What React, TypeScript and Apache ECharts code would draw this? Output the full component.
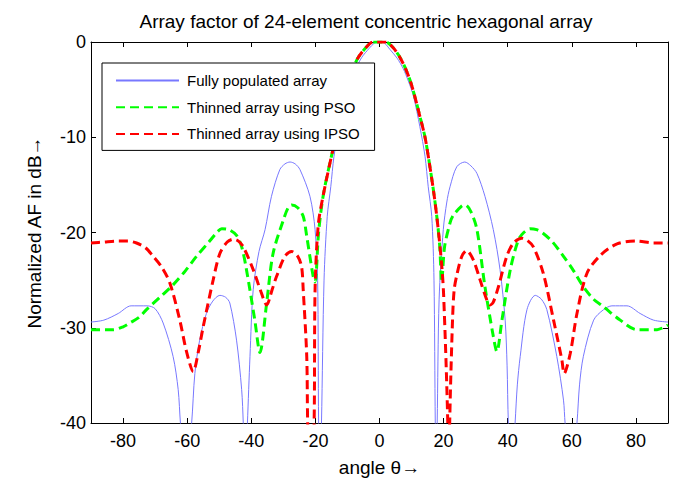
import React, { useEffect, useRef } from "react";
import * as echarts from "echarts";

const TITLE = "Array factor of 24-element concentric hexagonal array";
const X_NAME = "angle θ→";
const Y_NAME = "Normalized AF in dB→";
const SERIES_NAMES = ["Fully populated array", "Thinned array using PSO", "Thinned array using IPSO"];
const X_TICKS = [-80, -60, -40, -20, 0, 20, 40, 60, 80];

const FULL_ANGLE = [
  -90, -86, -81.5, -77.5, -72.5, -70, -67.5, -64.4, -62.8, -62.1, -60.4, -58.6, -57.6, -56.1, -54.0, -52.0,
  -49.8, -48.0, -46.7, -44.6, -43.0, -42.5, -41.9, -41.2, -40.4, -39.4, -37.6, -35.7, -33.7, -31.1, -29.5,
  -27.9, -26.3, -24.8, -21.7, -20.1, -19.3, -19.0, -18.6, -18.1, -17.3, -16.3, -15.2, -14.2, -12.6, -10.6,
  -9.0, -7.4, -5.5, -3.3, -1.5, 0,
  1.5, 3.3, 5.5, 7.4, 9.0, 10.6, 12.6, 14.2, 15.2, 16.3, 17.0, 17.4, 17.7, 18.0, 18.6, 19.9, 21.0, 22.0,
  24.1, 26.6, 28.5, 30.4, 32.9, 35.5, 37.6, 39.2, 39.8, 40.2, 41.2, 42.3, 43.0, 43.9, 46.0, 48.6, 50.5,
  52.2, 55.3, 57.4, 57.9, 59.8, 61.6, 62.4, 63.6, 66.8, 69.9, 72.5, 77.2, 81.3, 85.5, 90,
];
const FULL_DB = [
  -29.4, -29.2, -28.5, -27.7, -27.7, -28.0, -29.5, -33.0, -36.5, -40, -46, -40, -34.8, -31.3, -28.5, -27.2,
  -26.6, -26.8, -27.4, -31.3, -36.5, -40, -46, -40, -33.0, -26.0, -22.0, -19.7, -16.2, -13.4, -12.8,
  -12.6, -12.8, -13.4, -16.2, -19.7, -25, -40, -46, -40, -25, -18.3, -15.2, -12.0, -8.9, -5.7,
  -4.1, -2.8, -1.6, -0.7, -0.1, 0,
  -0.1, -0.8, -1.7, -2.8, -4.1, -5.7, -8.9, -12.0, -15.2, -18.3, -25, -40, -46, -40, -27, -19.7, -16.8, -15.2,
  -13.1, -12.6, -13.0, -13.8, -16.2, -19.7, -23.9, -29.2, -34, -40, -46, -40, -36, -33.0, -28.1, -26.6, -27.0,
  -28.1, -33.0, -37.6, -40, -46, -40, -36, -33.0, -29.2, -28.1, -27.7, -27.7, -28.5, -29.2, -29.4,
];

const PSO_ANGLE = [
  -90, -83, -80, -77.9, -75, -72.7, -68.5, -64.4, -60.5, -57.1, -53, -50.5, -49.2, -47, -44.6, -43, -41.5,
  -38.9, -37.3, -35.2, -33.2, -30.0, -28.5, -27.4, -25.5, -23.8, -22.7, -20.7, -20.1, -19.0, -17.5, -14.4,
  -11.3, -9, -7.1, -4, -2, 0,
  2, 4, 6, 8, 10, 12.6, 14.2, 15.5, 17.0, 18.1, 18.8, 19.4, 20.3, 22.0, 23.0, 25.7, 26.7, 28.5, 30.4, 32.9,
  35.5, 36.6, 38.2, 40.8, 43.3, 45, 47.0, 49, 51.1, 54, 57.4, 60.5, 63.6, 66.8, 69.9, 75.1, 80.3, 86.6, 90,
];
const PSO_DB = [
  -30.2, -30.2, -29.9, -29.5, -28.9, -28.1, -26.8, -25.5, -24.0, -22.5, -20.9, -19.9, -19.6, -19.7, -20.3, -21.5, -23.9,
  -29.2, -32.6, -27.4, -22.2, -18.7, -17.4, -17.1, -17.4, -18.3, -20.4, -24.6, -25.2, -20.0, -16.0, -11.1,
  -6.6, -3.9, -1.9, -0.5, 0, 0,
  0, -0.5, -1.4, -2.7, -4.5, -7.8, -10.0, -12.6, -16.0, -19.0, -21.5, -25.2, -21.5, -19.0, -18.2, -17.2, -17.1, -17.8, -19.7, -25.7,
  -30.9, -32.5, -29.2, -23.9, -20.8, -20.0, -19.6, -19.7, -20.1, -21.0, -22.5, -24.0, -25.7, -27.0, -27.8, -29.2, -30.2, -30.2, -29.7,
];

const IPSO_ANGLE = [
  -90, -86, -82.1, -78.5, -75.8, -73, -70.6, -68, -65.4, -62.3, -60.2, -58.1, -56.5, -55.0, -51.9, -49.8,
  -47.5, -45.6, -44, -42.5, -39.4, -37, -35.2, -33.5, -32.1, -29.5, -27.4, -25.5, -24.3, -23.8, -22.7, -22.4,
  -21.4, -20.4, -20.1, -19.1, -17.5, -14.4, -11.3, -9, -7.1, -4.0, -2, 0,
  2, 4, 6, 8, 10, 12.6, 14.2, 15.5, 17.0, 18.1, 19.3, 20.0, 21.3, 21.6, 21.9, 22.8, 23.3, 24.1, 25.7, 27.2,
  29.3, 31.4, 33.5, 34.5, 35.5, 37.1, 39.7, 41.8, 44.4, 46, 48.0, 51.1, 54.3, 56.9, 57.6, 59.5, 61.6, 64.7,
  68.9, 74.1, 80.3, 85.5, 90,
];
const IPSO_DB = [
  -21.1, -21.0, -20.9, -20.9, -21.1, -21.6, -22.5, -23.6, -25.3, -29.2, -32.5, -34.6, -32.5, -29.9, -25.0, -22.2,
  -21.0, -20.7, -20.9, -21.5, -23.9, -26.2, -27.6, -26.0, -24.6, -22.5, -22.0, -22.5, -23.6, -26, -33, -40,
  -50, -40, -26, -19.2, -16.0, -11.1, -6.6, -4.0, -1.9, -0.5, 0, 0,
  0, -0.5, -1.4, -2.7, -4.5, -7.8, -10.0, -12.6, -16.0, -19.0, -23, -26.5, -40, -50, -40, -29, -26, -24.5, -22.5, -21.9,
  -22.9, -25.0, -27.1, -27.6, -27.3, -25.7, -22.5, -21.1, -20.6, -20.8, -21.5, -24.3, -29.2, -33.4, -34.8, -32.7, -28.5, -24.3,
  -22.4, -21.2, -20.9, -21.1, -21.1,
];

const FONT = "'Liberation Sans', Arial, Helvetica, sans-serif";

function zip(xs: number[], ys: number[]) {
  return xs.map((x, i) => [x, ys[i]]);
}

export default function App() {
  const ref = useRef<HTMLDivElement>(null);
  useEffect(() => {
    document.body.style.margin = "0";
    if (!ref.current) return;
    const chart = echarts.init(ref.current, undefined, { renderer: "svg" });
    const axisLine = { show: true, onZero: false, lineStyle: { color: "#000", width: 1 } };
    const tick = { show: true, inside: true, length: 5, lineStyle: { color: "#000", width: 1 } };
    chart.setOption({
      animation: false,
      backgroundColor: "#fff",
      title: {
        text: TITLE,
        left: 361,
        textAlign: "center",
        top: 7,
        textStyle: { fontFamily: FONT, fontSize: 19, fontWeight: "normal", color: "#000" },
      },
      grid: { left: 91, right: 7, top: 42, bottom: 65, containLabel: false },
      legend: {
        orient: "vertical",
        left: 102,
        top: 63,
        padding: [10, 15, 9, 13],
        itemGap: 11.7,
        itemWidth: 63,
        itemHeight: 14,
        backgroundColor: "#fff",
        borderColor: "#000",
        borderWidth: 1,
        itemStyle: { opacity: 0 },
        textStyle: { fontFamily: FONT, fontSize: 15, color: "#000", padding: [0, 0, 0, 3] },
        data: SERIES_NAMES,
      },
      xAxis: [
        {
          type: "value",
          min: -90,
          max: 90,
          name: X_NAME,
          nameLocation: "middle",
          nameGap: 35,
          nameTextStyle: { fontFamily: FONT, fontSize: 19, color: "#000" },
          axisLine,
          axisTick: { ...tick, customValues: X_TICKS },
          axisLabel: { customValues: X_TICKS, fontFamily: FONT, fontSize: 18, color: "#000", margin: 9 },
          splitLine: { show: false },
        },
        {
          type: "value",
          position: "top",
          min: -90,
          max: 90,
          axisLine,
          axisTick: { ...tick, customValues: X_TICKS },
          axisLabel: { show: false },
          splitLine: { show: false },
        },
      ],
      yAxis: [
        {
          type: "value",
          min: -40,
          max: 0,
          interval: 10,
          name: Y_NAME,
          nameLocation: "middle",
          nameGap: 47,
          nameTextStyle: { fontFamily: FONT, fontSize: 19, color: "#000" },
          axisLine,
          axisTick: tick,
          axisLabel: { fontFamily: FONT, fontSize: 18, color: "#000", margin: 5 },
          splitLine: { show: false },
        },
        {
          type: "value",
          position: "right",
          min: -40,
          max: 0,
          interval: 10,
          axisLine,
          axisTick: tick,
          axisLabel: { show: false },
          splitLine: { show: false },
        },
      ],
      series: [
        {
          name: SERIES_NAMES[0],
          type: "line",
          data: zip(FULL_ANGLE, FULL_DB),
          showSymbol: false,
          symbol: "none",
          smooth: 0.3,
          clip: true,
          lineStyle: { color: "#7878ff", width: 1 },
          itemStyle: { color: "#7878ff" },
        },
        {
          name: SERIES_NAMES[1],
          type: "line",
          data: zip(PSO_ANGLE, PSO_DB),
          showSymbol: false,
          symbol: "none",
          smooth: 0.3,
          clip: true,
          lineStyle: { color: "#00ff00", width: 3, type: [9, 5] },
          itemStyle: { color: "#00ff00" },
        },
        {
          name: SERIES_NAMES[2],
          type: "line",
          data: zip(IPSO_ANGLE, IPSO_DB),
          showSymbol: false,
          symbol: "none",
          smooth: 0.3,
          clip: true,
          lineStyle: { color: "#ff0000", width: 3, type: [9, 5] },
          itemStyle: { color: "#ff0000" },
        },
      ],
    });
    return () => chart.dispose();
  }, []);
  return <div ref={ref} style={{ width: 675, height: 488 }} />;
}
